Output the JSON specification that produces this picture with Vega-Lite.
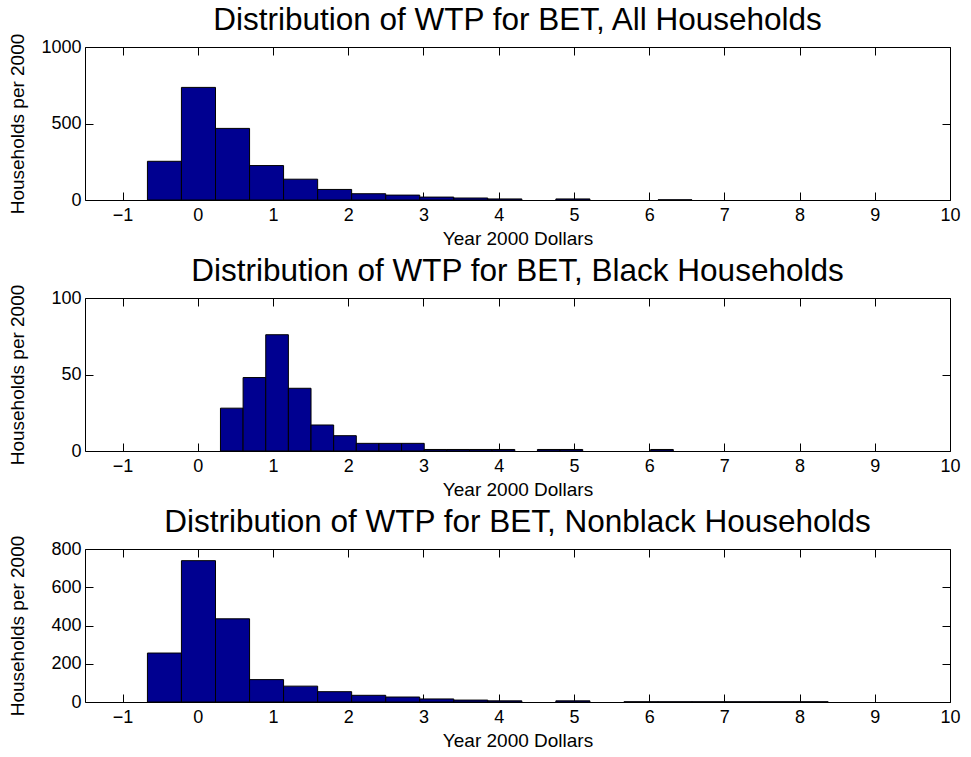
{
  "$schema": "https://vega.github.io/schema/vega-lite/v6.json",
  "padding": {"top": 4, "left": 7, "right": 0, "bottom": 0},
  "background": "#ffffff",
  "bounds": "flush",
  "spacing": 98,
  "datasets": {
    "hist": [
      {"group": "All", "x0": -0.670, "x1": -0.218, "count": 253},
      {"group": "All", "x0": -0.218, "x1": 0.235, "count": 736},
      {"group": "All", "x0": 0.235, "x1": 0.688, "count": 468},
      {"group": "All", "x0": 0.688, "x1": 1.140, "count": 225},
      {"group": "All", "x0": 1.140, "x1": 1.593, "count": 136},
      {"group": "All", "x0": 1.593, "x1": 2.045, "count": 69},
      {"group": "All", "x0": 2.045, "x1": 2.498, "count": 41},
      {"group": "All", "x0": 2.498, "x1": 2.950, "count": 32},
      {"group": "All", "x0": 2.950, "x1": 3.403, "count": 19},
      {"group": "All", "x0": 3.403, "x1": 3.855, "count": 13},
      {"group": "All", "x0": 3.855, "x1": 4.308, "count": 7},
      {"group": "All", "x0": 4.760, "x1": 5.213, "count": 7},
      {"group": "All", "x0": 6.118, "x1": 6.570, "count": 1},
      {"group": "Black", "x0": 0.301, "x1": 0.602, "count": 28},
      {"group": "Black", "x0": 0.602, "x1": 0.903, "count": 48},
      {"group": "Black", "x0": 0.903, "x1": 1.204, "count": 76},
      {"group": "Black", "x0": 1.204, "x1": 1.505, "count": 41},
      {"group": "Black", "x0": 1.505, "x1": 1.806, "count": 17},
      {"group": "Black", "x0": 1.806, "x1": 2.107, "count": 10},
      {"group": "Black", "x0": 2.107, "x1": 2.408, "count": 5},
      {"group": "Black", "x0": 2.408, "x1": 2.709, "count": 5},
      {"group": "Black", "x0": 2.709, "x1": 3.010, "count": 5},
      {"group": "Black", "x0": 3.010, "x1": 3.311, "count": 1},
      {"group": "Black", "x0": 3.311, "x1": 3.612, "count": 1},
      {"group": "Black", "x0": 3.612, "x1": 3.913, "count": 1},
      {"group": "Black", "x0": 3.913, "x1": 4.214, "count": 1},
      {"group": "Black", "x0": 4.515, "x1": 4.816, "count": 1},
      {"group": "Black", "x0": 4.816, "x1": 5.117, "count": 1},
      {"group": "Black", "x0": 6.020, "x1": 6.321, "count": 1},
      {"group": "Nonblack", "x0": -0.670, "x1": -0.218, "count": 256},
      {"group": "Nonblack", "x0": -0.218, "x1": 0.235, "count": 739},
      {"group": "Nonblack", "x0": 0.235, "x1": 0.688, "count": 435},
      {"group": "Nonblack", "x0": 0.688, "x1": 1.140, "count": 117},
      {"group": "Nonblack", "x0": 1.140, "x1": 1.593, "count": 83},
      {"group": "Nonblack", "x0": 1.593, "x1": 2.045, "count": 54},
      {"group": "Nonblack", "x0": 2.045, "x1": 2.498, "count": 35},
      {"group": "Nonblack", "x0": 2.498, "x1": 2.950, "count": 26},
      {"group": "Nonblack", "x0": 2.950, "x1": 3.403, "count": 16},
      {"group": "Nonblack", "x0": 3.403, "x1": 3.855, "count": 10},
      {"group": "Nonblack", "x0": 3.855, "x1": 4.308, "count": 6},
      {"group": "Nonblack", "x0": 4.760, "x1": 5.213, "count": 6},
      {"group": "Nonblack", "x0": 5.665, "x1": 6.118, "count": 1},
      {"group": "Nonblack", "x0": 6.118, "x1": 6.570, "count": 1},
      {"group": "Nonblack", "x0": 6.570, "x1": 7.023, "count": 1},
      {"group": "Nonblack", "x0": 7.023, "x1": 7.475, "count": 1},
      {"group": "Nonblack", "x0": 7.475, "x1": 7.928, "count": 1},
      {"group": "Nonblack", "x0": 7.928, "x1": 8.380, "count": 1}
    ]
  },
  "config": {
    "font": "Liberation Sans",
    "view": {"stroke": "#000000", "strokeWidth": 1},
    "axis": {
      "domain": false,
      "grid": false,
      "tickSize": -8,
      "tickColor": "#000000",
      "tickWidth": 1,
      "labelFont": "Liberation Sans",
      "labelFontSize": 18,
      "labelColor": "#000000",
      "labelFlush": false,
      "labelOverlap": false,
      "titleFont": "Liberation Sans",
      "titleFontSize": 19,
      "titleFontWeight": "normal",
      "titleColor": "#000000",
      "format": "d"
    },
    "axisBottom": {"labelPadding": 14.5, "titleBaseline": "alphabetic", "titleY": 44, "titleX": 432.5, "titleAlign": "center"},
    "axisLeft": {"labelPadding": 12, "titleAngle": -90, "titleBaseline": "bottom", "titleX": -58, "titleY": 76.5, "titleAlign": "center"},
    "title": {"font": "Liberation Sans", "fontSize": 31.5, "fontWeight": "normal", "color": "#000000", "anchor": "middle", "baseline": "alphabetic", "offset": -3}
  },
  "vconcat": [
    {
      "title": "Distribution of WTP for BET, All Households",
      "width": 865,
      "height": 153,
      "data": {"name": "hist"},
      "transform": [{"filter": "datum.group === 'All'"}],
      "layer": [
        {
          "mark": {"type": "rect", "fill": "#000090", "stroke": "#000000", "strokeWidth": 1},
          "encoding": {
            "x": {"field": "x0", "type": "quantitative", "scale": {"domain": [-1.5, 10], "nice": false, "zero": false}, "axis": {"values": [-1, 0, 1, 2, 3, 4, 5, 6, 7, 8, 9, 10], "title": "Year 2000 Dollars"}},
            "x2": {"field": "x1"},
            "y": {"field": "count", "type": "quantitative", "scale": {"domain": [0, 1000], "nice": false}, "axis": {"values": [0, 500, 1000], "title": "Households per 2000"}},
            "y2": {"datum": 0}
          }
        },
        {
          "mark": {"type": "rect", "opacity": 0},
          "encoding": {
            "x": {"field": "x0", "type": "quantitative", "axis": {"orient": "top", "values": [-1, 0, 1, 2, 3, 4, 5, 6, 7, 8, 9, 10], "labels": false, "title": null}},
            "x2": {"field": "x1"},
            "y": {"field": "count", "type": "quantitative", "axis": {"orient": "right", "values": [0, 500, 1000], "labels": false, "title": null}},
            "y2": {"datum": 0}
          }
        }
      ],
      "resolve": {"axis": {"x": "independent", "y": "independent"}}
    },
    {
      "title": "Distribution of WTP for BET, Black Households",
      "width": 865,
      "height": 153,
      "data": {"name": "hist"},
      "transform": [{"filter": "datum.group === 'Black'"}],
      "layer": [
        {
          "mark": {"type": "rect", "fill": "#000090", "stroke": "#000000", "strokeWidth": 1},
          "encoding": {
            "x": {"field": "x0", "type": "quantitative", "scale": {"domain": [-1.5, 10], "nice": false, "zero": false}, "axis": {"values": [-1, 0, 1, 2, 3, 4, 5, 6, 7, 8, 9, 10], "title": "Year 2000 Dollars"}},
            "x2": {"field": "x1"},
            "y": {"field": "count", "type": "quantitative", "scale": {"domain": [0, 100], "nice": false}, "axis": {"values": [0, 50, 100], "title": "Households per 2000"}},
            "y2": {"datum": 0}
          }
        },
        {
          "mark": {"type": "rect", "opacity": 0},
          "encoding": {
            "x": {"field": "x0", "type": "quantitative", "axis": {"orient": "top", "values": [-1, 0, 1, 2, 3, 4, 5, 6, 7, 8, 9, 10], "labels": false, "title": null}},
            "x2": {"field": "x1"},
            "y": {"field": "count", "type": "quantitative", "axis": {"orient": "right", "values": [0, 50, 100], "labels": false, "title": null}},
            "y2": {"datum": 0}
          }
        }
      ],
      "resolve": {"axis": {"x": "independent", "y": "independent"}}
    },
    {
      "title": "Distribution of WTP for BET, Nonblack Households",
      "width": 865,
      "height": 153,
      "data": {"name": "hist"},
      "transform": [{"filter": "datum.group === 'Nonblack'"}],
      "layer": [
        {
          "mark": {"type": "rect", "fill": "#000090", "stroke": "#000000", "strokeWidth": 1},
          "encoding": {
            "x": {"field": "x0", "type": "quantitative", "scale": {"domain": [-1.5, 10], "nice": false, "zero": false}, "axis": {"values": [-1, 0, 1, 2, 3, 4, 5, 6, 7, 8, 9, 10], "title": "Year 2000 Dollars"}},
            "x2": {"field": "x1"},
            "y": {"field": "count", "type": "quantitative", "scale": {"domain": [0, 800], "nice": false}, "axis": {"values": [0, 200, 400, 600, 800], "title": "Households per 2000"}},
            "y2": {"datum": 0}
          }
        },
        {
          "mark": {"type": "rect", "opacity": 0},
          "encoding": {
            "x": {"field": "x0", "type": "quantitative", "axis": {"orient": "top", "values": [-1, 0, 1, 2, 3, 4, 5, 6, 7, 8, 9, 10], "labels": false, "title": null}},
            "x2": {"field": "x1"},
            "y": {"field": "count", "type": "quantitative", "axis": {"orient": "right", "values": [0, 200, 400, 600, 800], "labels": false, "title": null}},
            "y2": {"datum": 0}
          }
        }
      ],
      "resolve": {"axis": {"x": "independent", "y": "independent"}}
    }
  ]
}
